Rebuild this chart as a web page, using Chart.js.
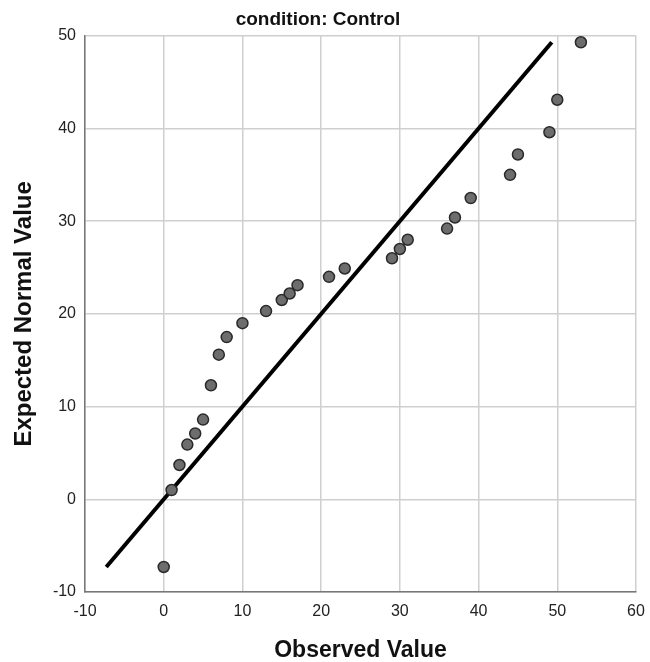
<!DOCTYPE html>
<html>
<head>
<meta charset="utf-8">
<script src="https://cdn.jsdelivr.net/npm/chart.js@4.4.1/dist/chart.umd.min.js"></script>
<style>
  html, body { margin: 0; padding: 0; background: #fff; }
  #wrap { width: 650px; height: 662px; position: relative; }
</style>
</head>
<body>
<div id="wrap"><canvas id="qq"></canvas></div>
<script>
// observed scores vs expected normal quantiles, control group
const observed = [0, 1, 2, 3, 4, 5, 6, 7, 8, 10, 13, 15, 16, 17, 21, 23, 29, 30, 31, 36, 37, 39, 44, 45, 49, 50, 53];
const expected = [-7.3, 1.0, 3.7, 5.9, 7.1, 8.6, 12.3, 15.6, 17.5, 19.0, 20.3, 21.5, 22.2, 23.1, 24.0, 24.9, 26.0, 27.0, 28.0, 29.2, 30.4, 32.5, 35.0, 37.2, 39.6, 43.1, 49.3];

// reference line y = x across the range of expected values
const refLine = [-7.3, 49.3];

const ticksX = [-10, 0, 10, 20, 30, 40, 50, 60];
const ticksY = [-10, 0, 10, 20, 30, 40, 50];

const font = 'Liberation Sans, Arial, sans-serif';

const points = observed.map((x, i) => ({ x: x, y: expected[i] }));
const line = refLine.map(v => ({ x: v, y: v }));

new Chart(document.getElementById('qq'), {
  type: 'scatter',
  data: {
    datasets: [
      {
        type: 'line',
        data: line,
        borderColor: '#000',
        borderWidth: 4,
        pointRadius: 0,
        fill: false,
        order: 2
      },
      {
        data: points,
        backgroundColor: '#6d6d6d',
        borderColor: '#2a2a2a',
        borderWidth: 1.5,
        pointRadius: 5.5,
        order: 1
      }
    ]
  },
  options: {
    responsive: true,
    maintainAspectRatio: false,
    animation: false,
    layout: { padding: { left: 0, right: 14, top: 0, bottom: 0 } },
    plugins: {
      legend: { display: false },
      tooltip: { enabled: false },
      title: {
        display: true,
        text: 'condition: Control',
        color: '#111',
        font: { family: font, size: 19, weight: 'bold' },
        padding: { top: 8, bottom: 5 }
      }
    },
    scales: {
      x: {
        type: 'linear',
        min: -10,
        max: 60,
        afterBuildTicks: s => { s.ticks = ticksX.map(v => ({ value: v })); },
        afterFit: s => { s.height = 70; s.paddingLeft = 0; s.paddingRight = 0; },
        grid: { color: '#cfcfcf', lineWidth: 1.5, drawTicks: false },
        border: { color: '#777', width: 1.5 },
        ticks: { color: '#222', padding: 10, font: { family: font, size: 16 } },
        title: {
          display: true,
          text: 'Observed Value',
          color: '#111',
          font: { family: font, size: 23, weight: 'bold' },
          padding: { top: 0, bottom: -2 }
        }
      },
      y: {
        type: 'linear',
        min: -10,
        max: 50,
        afterBuildTicks: s => { s.ticks = ticksY.map(v => ({ value: v })); },
        afterFit: s => { s.width = 85; },
        grid: { color: '#cfcfcf', lineWidth: 1.5, drawTicks: false },
        border: { color: '#777', width: 1.5 },
        ticks: { color: '#222', padding: 9, font: { family: font, size: 16 } },
        title: {
          display: true,
          text: 'Expected Normal Value',
          color: '#111',
          font: { family: font, size: 24, weight: 'bold' },
          padding: { top: 10, bottom: 0 }
        }
      }
    }
  }
});
</script>
</body>
</html>
